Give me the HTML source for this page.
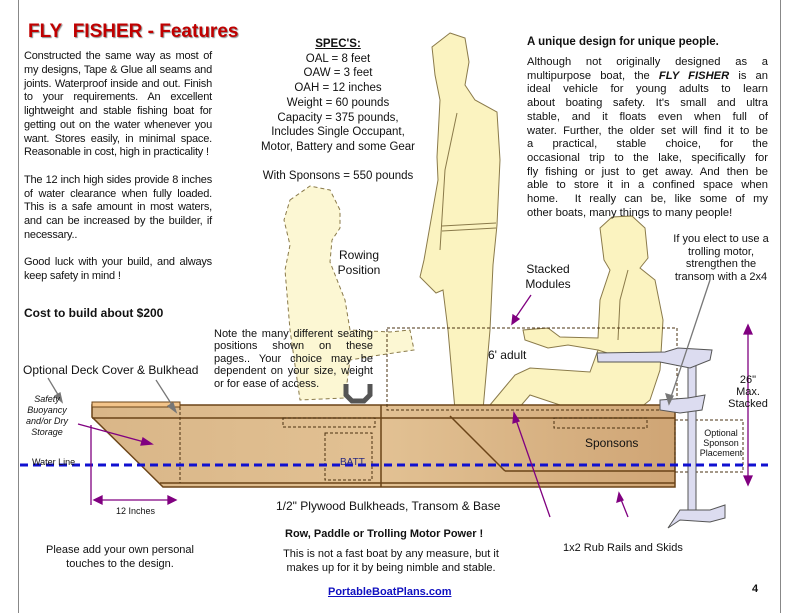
<!DOCTYPE html>
<html><head><meta charset="utf-8"><style>
body{margin:0;width:799px;height:613px;background:#fff;position:relative;overflow:hidden;font-family:"Liberation Sans",Arial,sans-serif;color:#111}
.t{position:absolute;font-size:12px;line-height:15.4px}
.c{text-align:center}
.p div{white-space:nowrap;text-align:justify;text-align-last:justify}
.p div.l{text-align-last:left}
</style></head><body>
<svg width="799" height="613" style="position:absolute;left:0;top:0">
<line x1="18.5" y1="0" x2="18.5" y2="613" stroke="#888"/>
<line x1="780.5" y1="0" x2="780.5" y2="613" stroke="#888"/>
<g fill="#fbf3c0" fill-opacity="0.7" stroke="#8a7a4a" stroke-dasharray="4 3">
<path d="M290 200 L310 186 L330 190 L340 210 L340 228 L332 240 L330 262 L345 300 L350 330 L390 332 L410 330 L414 350 L380 355 L350 360 L345 398 L300 400 L290 330 L285 270 L290 245 L284 220 Z"/>
</g>
<g fill="#fbf3c0" stroke="#8a7a4a" stroke-width="1">
<path d="M450 33 L465 38 L469 62 L465 85 L475 100 L497 112 L500 160 L497 225 L493 265 L490 330 L483 410 L455 410 L448 330 L443 290 L436 293 L420 277 L424 260 L438 180 L437 157 L440 100 L435 75 L432 47 Z"/>
<path d="M457 113 L445 170 L440 250 M442 226 L496 223 M442 231 L496 228" fill="none"/>
<path d="M600 228 L612 217 L632 216 L645 228 L648 258 L640 268 L655 280 L663 320 L660 370 L650 400 L640 408 L560 405 L530 395 L500 430 L470 450 L455 440 L490 405 L515 375 L530 368 L590 372 L598 350 L568 345 L548 348 L525 340 L523 330 L548 328 L560 337 L598 338 L600 300 L610 270 L604 260 Z"/>
<path d="M628 270 L620 300 L618 340 M598 350 L635 362" fill="none"/>
</g>
<defs><linearGradient id="w" x1="0" x2="1"><stop offset="0" stop-color="#d9b688"/><stop offset=".5" stop-color="#e2c193"/><stop offset="1" stop-color="#cfa575"/></linearGradient></defs>
<path d="M92 405 L675 405 L675 487 L163 487 L92 417 Z" fill="url(#w)" stroke="#6b4418" stroke-width="1.5"/>
<line x1="92" y1="418" x2="675" y2="418" stroke="#6b4418" stroke-width="1.5"/>
<line x1="160" y1="483" x2="675" y2="483" stroke="#6b4418" stroke-width="1.5"/>
<line x1="450" y1="416" x2="505" y2="471" stroke="#6b4418" stroke-width="1.5"/>
<line x1="505" y1="471" x2="675" y2="471" stroke="#6b4418" stroke-width="1.5"/>
<rect x="92" y="402" width="88" height="5" fill="#f3c48a" stroke="#6b4418"/>
<line x1="381" y1="405" x2="381" y2="487" stroke="#6b4418" stroke-width="1.5"/>
<g fill="none" stroke="#4a3010" stroke-dasharray="3 2">
<line x1="180" y1="407" x2="180" y2="483"/>
<rect x="283" y="418" width="92" height="9"/>
<rect x="325" y="433" width="47" height="47"/>
<rect x="554" y="418" width="93" height="10"/>
<rect x="387" y="328" width="290" height="82"/>
<rect x="675" y="420" width="68" height="52"/>
</g>
<path d="M346 384 L346 395 L352 401 L364 401 L370 395 L370 384" fill="none" stroke="#555" stroke-width="5"/>
<g fill="#dcdcf0" stroke="#555">
<rect x="688" y="365" width="8" height="145"/>
<path d="M597 353 L665 352 L678 348 L712 350 L710 360 L690 368 L660 362 L598 362 Z"/>
<path d="M660 400 L688 398 L705 395 L702 410 L680 413 L660 410 Z"/>
<path d="M680 510 L710 510 L725 505 L725 518 L710 522 L680 520 L668 528 Z"/>
</g>
<line x1="20" y1="465" x2="768" y2="465" stroke="#1010d0" stroke-width="3" stroke-dasharray="8 5"/>
<g stroke="#800080" stroke-width="1.3" fill="#800080">
<line x1="91" y1="425" x2="91" y2="505"/>
<line x1="96" y1="500" x2="174" y2="500"/><path d="M94 500l8-4v8zM176 500l-8-4v8z"/>
<line x1="78" y1="424" x2="148" y2="443"/><path d="M152 444l-9-6-2 7z"/>
<line x1="748" y1="330" x2="748" y2="480"/><path d="M748 325l-4 9h8zM748 485l-4-9h8z"/>
<line x1="531" y1="295" x2="514" y2="320"/><path d="M512 324l1-9 6 4z"/>
<line x1="550" y1="517" x2="515" y2="417"/><path d="M514 413l-1 10 6-2z"/>
<line x1="628" y1="517" x2="620" y2="497"/><path d="M619 493l-2 9 6-2z"/>
</g>
<g stroke="#777" stroke-width="1.3" fill="#777">
<line x1="710" y1="280" x2="670" y2="400"/><path d="M669 404l-3-10 7 2z"/>
<line x1="48" y1="378" x2="60" y2="398"/><path d="M62 402l-7-6 5-3z"/>
<line x1="156" y1="380" x2="174" y2="408"/><path d="M176 412l-8-6 5-3z"/>
</g>
</svg>
<div style="position:absolute;left:28px;top:21px;font-size:19px;font-weight:bold;color:#c00000;text-shadow:1px 1px 1px #888">FLY&nbsp; FISHER - Features</div>
<div class="t p" style="left:24px;top:50px;width:188px;font-size:11px;line-height:13.75px;letter-spacing:-0.2px">
<div>Constructed the same way as most of</div>
<div>my designs, Tape &amp; Glue all seams and</div>
<div>joints. Waterproof inside and out. Finish</div>
<div>to your requirements. An excellent</div>
<div>lightweight and stable fishing boat for</div>
<div>getting out on the water whenever you</div>
<div>want. Stores easily, in minimal space.</div>
<div class="l">Reasonable in cost, high in practicality !</div>
<div class="l">&nbsp;</div>
<div>The 12 inch high sides provide 8 inches</div>
<div>of water clearance when fully loaded.</div>
<div>This is a safe amount in most waters,</div>
<div>and can be increased by the builder, if</div>
<div class="l">necessary..</div>
<div class="l">&nbsp;</div>
<div>Good luck with your build, and always</div>
<div class="l">keep safety in mind !</div>
</div>
<div class="t" style="left:24px;top:306px;font-weight:bold">Cost to build about $200</div>
<div class="t c" style="left:248px;top:37px;width:180px;font-size:11.5px;line-height:14.7px"><b style="text-decoration:underline">SPEC'S:</b><br>OAL = 8 feet<br>OAW = 3 feet<br>OAH = 12 inches<br>Weight = 60 pounds<br>Capacity = 375 pounds,<br>Includes Single Occupant,<br>Motor, Battery and some Gear<br><br>With Sponsons = 550 pounds</div>
<div class="t" style="left:527px;top:35px;font-weight:bold;font-size:11.5px">A unique design for unique people.</div>
<div class="t p" style="left:527px;top:56px;width:241px;font-size:11.2px;line-height:13.7px">
<div>Although not originally designed as a</div>
<div>multipurpose boat, the <b><i>FLY FISHER</i></b> is an</div>
<div>ideal vehicle for young adults to learn</div>
<div>about boating safety. It's small and ultra</div>
<div>stable, and it floats even when full of</div>
<div>water. Further, the older set will find it to be</div>
<div>a practical, stable choice, for the</div>
<div>occasional trip to the lake, specifically for</div>
<div>fly fishing or just to get away. And then be</div>
<div>able to store it in a confined space when</div>
<div>home.&nbsp; It really can be, like some of my</div>
<div class="l">other boats, many things to many people!</div>
</div>
<div class="t c" style="left:334px;top:248px;width:50px">Rowing Position</div>
<div class="t c" style="left:518px;top:262px;width:60px">Stacked Modules</div>
<div class="t" style="left:488px;top:348px">6' adult</div>
<div class="t c" style="left:666px;top:233px;width:110px;font-size:11px;line-height:12.6px">If you elect to use a trolling motor, strengthen the transom with a 2x4</div>
<div class="t c" style="left:728px;top:374px;width:40px;font-size:11px;line-height:12px">26"<br>Max.<br>Stacked</div>
<div class="t c" style="left:696px;top:428px;width:50px;font-size:9px;line-height:10px">Optional Sponson Placement</div>
<div class="t p" style="left:214px;top:328px;width:159px;font-size:11px;line-height:12.4px">
<div>Note the many different seating</div>
<div>positions shown on these</div>
<div>pages.. Your choice may be</div>
<div>dependent on your size, weight</div>
<div class="l">or for ease of access.</div>
</div>
<div class="t" style="left:23px;top:363px;font-size:12px">Optional Deck Cover &amp; Bulkhead</div>
<div class="t c" style="left:22px;top:394px;width:50px;font-size:9px;line-height:11px;font-style:italic">Safety Buoyancy and/or Dry Storage</div>
<div class="t" style="left:32px;top:455px;font-size:9px">Water Line</div>
<div class="t" style="left:340px;top:455px;font-size:10px;color:#2a2a80">BATT.</div>
<div class="t" style="left:585px;top:436px">Sponsons</div>
<div class="t" style="left:116px;top:504px;font-size:9px">12 Inches</div>
<div class="t" style="left:276px;top:499px">1/2" Plywood Bulkheads, Transom &amp; Base</div>
<div class="t" style="left:285px;top:527px;font-weight:bold;font-size:11px">Row, Paddle or Trolling Motor Power !</div>
<div class="t c" style="left:266px;top:548px;width:250px;font-size:11px;line-height:13.5px">This is not a fast boat by any measure, but it makes up for it by being nimble and stable.</div>
<div class="t c" style="left:40px;top:544px;width:160px;font-size:11px;line-height:13.5px">Please add your own personal touches to the design.</div>
<div class="t" style="left:563px;top:541px;font-size:11px">1x2 Rub Rails and Skids</div>
<div class="t" style="left:328px;top:585px;font-size:11px;font-weight:bold;color:#1010c0;text-decoration:underline">PortableBoatPlans.com</div>
<div class="t" style="left:752px;top:582px;font-size:11px;font-weight:bold">4</div>
</body></html>
